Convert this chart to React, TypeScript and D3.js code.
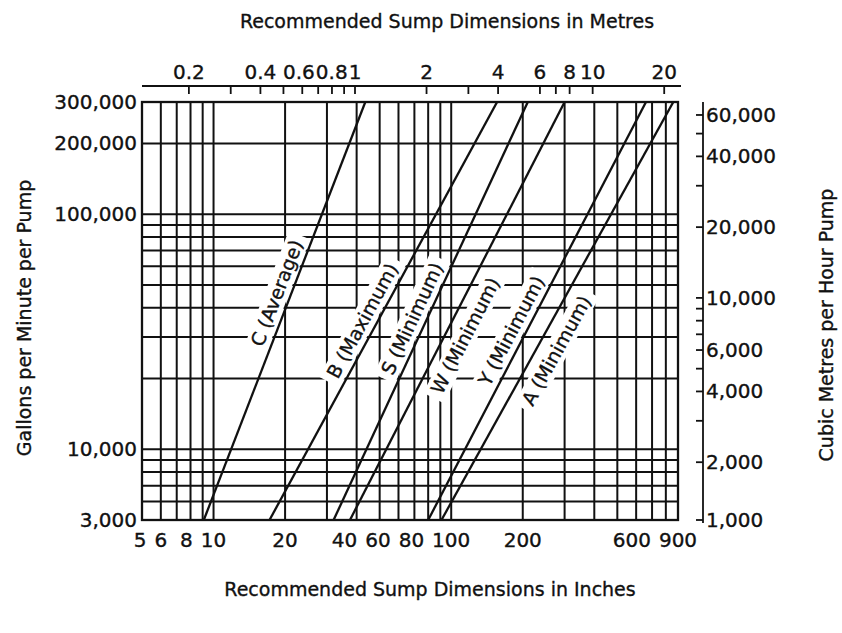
import React from 'react'
import * as d3 from 'd3'

// conversions used for the secondary axes
const IN_TO_M = 0.0254
const GPM_TO_M3H = 0.2271

// bottom axis (inches)
const inchLabels = [5, 6, 8, 10, 20, 40, 60, 80, 100, 200, 600, 900]
const inchGrid = [6, 7, 8, 9, 10, 20, 30, 40, 50, 60, 70, 80, 90, 100, 200, 300, 400, 500, 600, 700, 800]

// top axis (metres)
const metreTicks = [0.2, 0.3, 0.4, 0.5, 0.6, 0.7, 0.8, 0.9, 1, 2, 3, 4, 6, 7, 8, 10, 20]
const metreLabels = [0.2, 0.4, 0.6, 0.8, 1, 2, 4, 6, 8, 10, 20]

// left axis (gallons per minute)
const gpmLabels = [300000, 200000, 100000, 10000, 3000]
const gpmGrid = [6000, 7000, 8000, 9000, 10000, 20000, 30000, 40000, 50000, 60000, 70000, 80000, 90000, 100000, 200000]

// right axis (cubic metres per hour)
const m3hTicks = [60000, 50000, 40000, 30000, 20000, 10000, 9000, 8000, 7000, 6000, 5000, 4000, 3000, 2000, 1000]
const m3hLabels = [60000, 40000, 20000, 10000, 6000, 4000, 2000, 1000]

// sump lines: inches read at 5,000 gpm and at 300,000 gpm
const sumpTypes = ['C (Average)', 'B (Maximum)', 'S (Minimum)', 'W (Minimum)', 'Y (Minimum)', 'A (Minimum)']
const inchesLow = [9.1, 17.2, 32, 37.5, 80, 91]
const inchesHigh = [43.5, 156, 210, 300, 660, 860]
// where each label sits along its line (gpm) and on which side (-1 left, 1 right)
const labelFlow = [44000, 33000, 34000, 33000, 30000, 28700]
const labelSide = [-1, -1, -1, 1, -1, 1]

const FONT = '"DejaVu Sans", Verdana, sans-serif'
const fmt = d3.format(',')

let ctx: CanvasRenderingContext2D | null = null
function textWidth(s: string, size: number) {
  if (!ctx) ctx = document.createElement('canvas').getContext('2d')
  if (!ctx) return s.length * size * 0.6
  ctx.font = `${size}px ${FONT}`
  return ctx.measureText(s).width
}

// push crowded labels to the left so they don't overlap
function spread(pos: number[], widths: number[], gap: number) {
  const out = pos.slice()
  for (let i = out.length - 2; i >= 0; i--) {
    const maxRight = out[i + 1] - widths[i + 1] / 2 - gap
    if (out[i] + widths[i] / 2 > maxRight) out[i] = maxRight - widths[i] / 2
  }
  return out
}

export default function App() {
  const width = 842
  const height = 633
  const plot = { left: 142, right: 678, top: 102, bottom: 520 }
  const fs = 19
  const tfs = 20

  const x = d3.scaleLog().domain([5, 900]).range([plot.left, plot.right])
  const y = d3.scaleLog().domain([5000, 300000]).range([plot.bottom, plot.top])
  const yLab = y.copy().clamp(true)
  const xM = d3.scaleLog().domain([5 * IN_TO_M, 900 * IN_TO_M]).range([plot.left, plot.right])
  const yR = d3.scaleLog()
    .domain([5000 * GPM_TO_M3H, 300000 * GPM_TO_M3H])
    .range([plot.bottom, plot.top])
    .clamp(true)

  const line = d3.line<[number, number]>().x(d => x(d[0])).y(d => y(d[1]))

  const labels = sumpTypes.map((name, i) => {
    const x0 = x(inchesLow[i]), y0 = y(5000)
    const x1 = x(inchesHigh[i]), y1 = y(300000)
    const ly = y(labelFlow[i])
    const t = (ly - y0) / (y1 - y0)
    const lx = x0 + t * (x1 - x0)
    const ang = (Math.atan2(y1 - y0, x1 - x0) * 180) / Math.PI
    const base = labelSide[i] < 0 ? -7 : 25
    return { name, lx, ly, ang, base, w: textWidth(name, fs) }
  })

  const inchW = inchLabels.map(v => textWidth(String(v), tfs))
  const inchX = spread(inchLabels.map(v => x(v)), inchW, 8)
  const metreW = metreLabels.map(v => textWidth(String(v), tfs))
  const metreX = spread(metreLabels.map(v => xM(v)), metreW, 1)

  const axisY = 86
  const ink = { fill: '#111', stroke: '#111', strokeWidth: 0.35 }

  return (
    <svg width={width} height={height} style={{ display: 'block', background: '#fff' }}>
      <style>{`body{margin:0}`}</style>
      <defs>
        <clipPath id="plotClip">
          <rect x={plot.left} y={plot.top} width={plot.right - plot.left} height={plot.bottom - plot.top} />
        </clipPath>
      </defs>

      {/* grid */}
      <g stroke="#111" strokeWidth={2}>
        {inchGrid.map(v => (
          <line key={'vx' + v} x1={x(v)} x2={x(v)} y1={plot.top} y2={plot.bottom} />
        ))}
        {gpmGrid.map(v => (
          <line key={'hy' + v} x1={plot.left} x2={plot.right} y1={y(v)} y2={y(v)} />
        ))}
      </g>

      {/* white backing behind the line labels */}
      <g clipPath="url(#plotClip)">
        {labels.map(l => (
          <rect key={'bg' + l.name} transform={`translate(${l.lx},${l.ly}) rotate(${l.ang})`}
            x={-l.w / 2 - 6} y={l.base - 18} width={l.w + 12} height={23} fill="#fff" />
        ))}
      </g>

      {/* sump lines */}
      <g clipPath="url(#plotClip)" fill="none" stroke="#111" strokeWidth={2.3}>
        {sumpTypes.map((name, i) => (
          <path key={name} d={line([[inchesLow[i], 5000], [inchesHigh[i], 300000]]) || ''} />
        ))}
      </g>

      {/* line labels */}
      <g fontFamily={FONT} fontSize={fs} {...ink}>
        {labels.map(l => (
          <text key={'lb' + l.name} transform={`translate(${l.lx},${l.ly}) rotate(${l.ang})`}
            y={l.base} textAnchor="middle">{l.name}</text>
        ))}
      </g>

      {/* plot frame */}
      <rect x={plot.left} y={plot.top} width={plot.right - plot.left} height={plot.bottom - plot.top}
        fill="none" stroke="#111" strokeWidth={2.3} />

      {/* top axis (metres) */}
      <g stroke="#111" strokeWidth={1.8}>
        <line x1={plot.left} x2={plot.right + 3} y1={axisY} y2={axisY} />
        {metreTicks.map(v => (
          <line key={'mt' + v} x1={xM(v)} x2={xM(v)} y1={axisY} y2={axisY + 8} />
        ))}
      </g>
      <g fontFamily={FONT} fontSize={tfs} {...ink} textAnchor="middle">
        {metreLabels.map((v, i) => (
          <text key={'ml' + v} x={metreX[i]} y={axisY - 7}>{v}</text>
        ))}
      </g>

      {/* right axis (m3/h) */}
      <g stroke="#111" strokeWidth={1.8}>
        <line x1={703} x2={703} y1={plot.top} y2={plot.bottom + 3} />
        {m3hTicks.map(v => (
          <line key={'rt' + v} x1={696} x2={703} y1={yR(v)} y2={yR(v)} />
        ))}
      </g>
      <g fontFamily={FONT} fontSize={tfs} {...ink}>
        {m3hLabels.map(v => (
          <text key={'rl' + v} x={706} y={yR(v)} dy="0.35em">{fmt(v)}</text>
        ))}
      </g>

      {/* left axis labels */}
      <g fontFamily={FONT} fontSize={tfs} {...ink} textAnchor="end">
        {gpmLabels.map(v => (
          <text key={'gl' + v} x={plot.left - 5} y={yLab(v)} dy="0.35em">{fmt(v)}</text>
        ))}
      </g>

      {/* bottom axis labels */}
      <g fontFamily={FONT} fontSize={tfs} {...ink} textAnchor="middle">
        {inchLabels.map((v, i) => (
          <text key={'il' + v} x={inchX[i]} y={plot.bottom + 27}>{v}</text>
        ))}
      </g>

      {/* titles */}
      <g fontFamily={FONT} fontSize={fs} {...ink} textAnchor="middle">
        <text x={447} y={28}>Recommended Sump Dimensions in Metres</text>
        <text x={430} y={596}>Recommended Sump Dimensions in Inches</text>
        <text transform="translate(31,318) rotate(-90)">Gallons per Minute per Pump</text>
        <text transform="translate(833,325) rotate(-90)">Cubic Metres per Hour Pump</text>
      </g>
    </svg>
  )
}
